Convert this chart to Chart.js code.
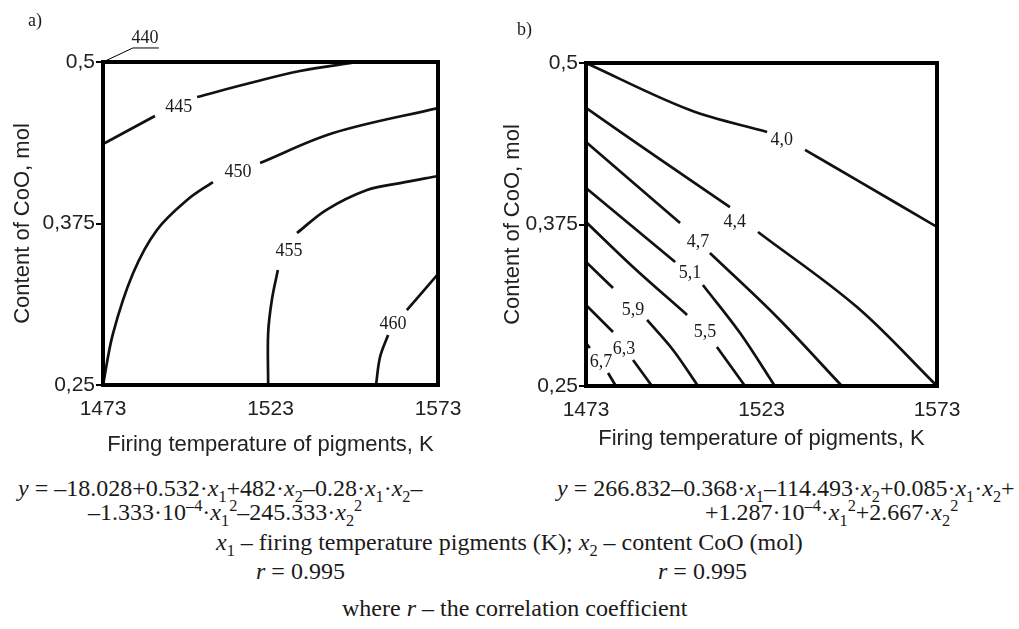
<!DOCTYPE html>
<html lang="en">
<head>
<meta charset="UTF-8">
<title>Contour charts</title>
<script src="https://cdn.jsdelivr.net/npm/chart.js@4.4.0/dist/chart.umd.min.js"></script>
<style>
  body { margin: 0; background: #fff; }
  #wrap { position: relative; width: 1019px; height: 629px; overflow: hidden;
          font-family: 'Liberation Serif', 'Times New Roman', serif; color: #1a1a1a; }
  #boxA { position: absolute; left: 0; top: 0; }
  #boxB { position: absolute; left: 490px; top: 0; }
  .t { position: absolute; white-space: nowrap; font-size: 24px; line-height: 28px; }
  .t sub, .t sup { font-size: 68%; line-height: 0; }
  .tag { position: absolute; font-size: 18px; }
</style>
</head>
<body>
<div id="wrap">
  <canvas id="boxA" width="470" height="470"></canvas>
  <canvas id="boxB" width="480" height="470"></canvas>
  <div class="tag" style="left:28px;top:10px">a)</div>
  <div class="tag" style="left:517px;top:19px">b)</div>

  <div class="t" style="left:18px;top:474px"><i>y</i> = –18.028+0.532·<i>x</i><sub>1</sub>+482·<i>x</i><sub>2</sub>–0.28·<i>x</i><sub>1</sub>·<i>x</i><sub>2</sub>–</div>
  <div class="t" style="left:88px;top:498px">–1.333·10<sup>–4</sup>·<i>x</i><sub>1</sub><sup>2</sup>–245.333·<i>x</i><sub>2</sub><sup>2</sup></div>
  <div class="t" style="left:557px;top:474px"><i>y</i> = 266.832–0.368·<i>x</i><sub>1</sub>–114.493·<i>x</i><sub>2</sub>+0.085·<i>x</i><sub>1</sub>·<i>x</i><sub>2</sub>+</div>
  <div class="t" style="left:705px;top:498px">+1.287·10<sup>–4</sup>·<i>x</i><sub>1</sub><sup>2</sup>+2.667·<i>x</i><sub>2</sub><sup>2</sup></div>
  <div class="t" style="left:216px;top:528px"><i>x</i><sub>1</sub> – firing temperature pigments (K); <i>x</i><sub>2</sub> – content CoO (mol)</div>
  <div class="t" style="left:256px;top:557px"><i>r</i> = 0.995</div>
  <div class="t" style="left:658px;top:557px"><i>r</i> = 0.995</div>
  <div class="t" style="left:342px;top:594px">where <i>r</i> – the correlation coefficient</div>
</div>
<script>
// axes
const xTicks = [1473, 1523, 1573];
const xTickLabels = ['1473', '1523', '1573'];
const yTicks = [0.25, 0.375, 0.5];
const yTickLabels = ['0,25', '0,375', '0,5'];

// chart a) contour lines, [K, mol]; null = gap for the label
const a445 = [[1473, 0.4365], [1488.5, 0.4582], null, [1501.1, 0.4729], [1516.9, 0.4837], [1531.8, 0.493], [1549.1, 0.5]];
const a450 = [[1473, 0.25], [1476, 0.29], [1482, 0.3367], [1489.1, 0.37], [1498.1, 0.3932], [1505.8, 0.4071], null,
              [1519.9, 0.4218], [1541.7, 0.445], [1573, 0.4644]];
const a455 = [[1573, 0.4118], [1561.7, 0.4063], [1551.8, 0.4009], [1539.6, 0.3854], [1530.9, 0.3676], null,
              [1525.2, 0.339], [1523.4, 0.3158], [1522.3, 0.2902], [1522.3, 0.25]];
const a460 = [[1573, 0.3359], [1563.7, 0.308], null, [1558.1, 0.2887], [1555.7, 0.2717], [1554.5, 0.25]];
const aLabels = ['440', '445', '450', '455', '460'];
const aLabelX = [1485.5, 1495.6, 1513.3, 1528.5, 1559.6];
const aLabelY = [0.5186, 0.4652, 0.4149, 0.3537, 0.2972];

// chart b)
const b40 = [[1473, 0.5], [1502.6, 0.4636], [1524.6, 0.4466], null, [1535.4, 0.4327], [1550.2, 0.4094], [1573, 0.3731]];
const b44 = [[1473, 0.4652], [1493.2, 0.4272], [1514, 0.3885], null, [1522, 0.3692], [1550.2, 0.3111], [1573, 0.25]];
const b47 = [[1473, 0.4389], [1499.8, 0.3762], null, [1508.3, 0.3529], [1527.4, 0.3034], [1545.9, 0.25]];
const b51 = [[1473, 0.4033], [1498.4, 0.346], null, [1506.3, 0.3282], [1516.9, 0.291], [1526.8, 0.25]];
const b55 = [[1473, 0.3769], [1486.4, 0.3421], [1501.8, 0.305], null, [1510.3, 0.2802], [1518.3, 0.25]];
const b59 = [[1473, 0.346], [1480.7, 0.3259], null, [1490.4, 0.3011], [1497.8, 0.2779], [1504.9, 0.25]];
const b63 = [[1473, 0.3127], [1480.7, 0.2918], null, [1486.4, 0.2701], [1491.8, 0.25]];
const b67 = [[1473, 0.2833], [1474.1, 0.2794], null, [1479.3, 0.2601], [1481.5, 0.25]];
const bLabels = ['4,0', '4,4', '4,7', '5,1', '5,5', '5,9', '6,3', '6,7'];
const bLabelX = [1528.8, 1515.4, 1504.9, 1502.6, 1506.9, 1486.4, 1483.8, 1477.3];
const bLabelY = [0.4404, 0.3769, 0.3615, 0.3375, 0.2918, 0.3088, 0.2786, 0.2686];

function toDatasets(lines) {
  const out = [];
  lines.forEach(line => {
    let seg = [];
    line.concat([null]).forEach(p => {
      if (p === null) {
        if (seg.length) out.push({
          data: seg, showLine: true, borderColor: '#111', borderWidth: 2.7,
          pointRadius: 0, tension: 0.35, fill: false
        });
        seg = [];
      } else {
        seg.push({ x: p[0], y: p[1] });
      }
    });
  });
  return out;
}

const framePlugin = {
  id: 'frame',
  afterDatasetsDraw(chart, args, opts) {
    const { ctx, chartArea: ca, scales: { x, y } } = chart;
    ctx.save();
    ctx.strokeStyle = '#000';
    ctx.lineWidth = 4;
    ctx.strokeRect(ca.left, ca.top, ca.right - ca.left, ca.bottom - ca.top);
    ctx.fillStyle = '#1a1a1a';
    ctx.font = '18px "Liberation Serif", serif';
    ctx.textAlign = 'center';
    ctx.textBaseline = 'middle';
    opts.labels.forEach((t, i) => {
      const px = x.getPixelForValue(opts.lx[i]);
      const py = y.getPixelForValue(opts.ly[i]);
      ctx.fillText(t, px, py);
      if (opts.leader === i) {
        ctx.lineWidth = 1;
        ctx.beginPath();
        ctx.moveTo(x.getPixelForValue(xTicks[0]), y.getPixelForValue(yTicks[2]));
        ctx.lineTo(px - 12, py + 10);
        ctx.lineTo(px + 14, py + 10);
        ctx.stroke();
      }
    });
    ctx.restore();
  }
};

function makeChart(id, lines, labels, lx, ly, leader, g) {
  new Chart(document.getElementById(id), {
    type: 'scatter',
    data: { datasets: toDatasets(lines) },
    options: {
      responsive: false,
      animation: false,
      layout: { padding: { left: 0, top: g.top, right: g.right, bottom: 0 } },
      plugins: {
        legend: { display: false },
        tooltip: { enabled: false },
        frame: { labels: labels, lx: lx, ly: ly, leader: leader }
      },
      scales: {
        x: {
          type: 'linear', min: 1473, max: 1573,
          afterBuildTicks: s => { s.ticks = xTicks.map(v => ({ value: v })); },
          afterFit: s => { s.height = g.xh; },
          ticks: {
            autoSkip: false, maxRotation: 0, padding: 4, color: '#222',
            font: { family: 'Liberation Sans', size: 21 },
            callback: v => xTickLabels[xTicks.indexOf(v)]
          },
          grid: { drawOnChartArea: false, tickLength: 8, tickColor: 'rgba(0,0,0,0)' },
          border: { display: false },
          title: {
            display: true, text: 'Firing temperature of pigments, K', color: '#222',
            font: { family: 'Liberation Sans', size: 22 }, padding: { bottom: g.xtp }
          }
        },
        y: {
          type: 'linear', min: 0.25, max: 0.5,
          afterBuildTicks: s => { s.ticks = yTicks.map(v => ({ value: v })); },
          afterFit: s => { s.width = g.yw; },
          ticks: {
            autoSkip: false, padding: 1, color: '#222',
            font: { family: 'Liberation Sans', size: 21 },
            callback: v => yTickLabels[yTicks.indexOf(v)]
          },
          grid: { drawOnChartArea: false, tickLength: 7, tickColor: '#000', lineWidth: 2 },
          border: { display: false },
          title: {
            display: true, text: 'Content of CoO, mol', color: '#222',
            font: { family: 'Liberation Sans', size: 22 }, padding: { top: 10 }
          }
        }
      }
    },
    plugins: [framePlugin]
  });
}

makeChart('boxA', [a445, a450, a455, a460], aLabels, aLabelX, aLabelY, 0,
  { top: 62, right: 32, xh: 85, yw: 103, xtp: 12 });
makeChart('boxB', [b40, b44, b47, b51, b55, b59, b63, b67], bLabels, bLabelX, bLabelY, -1,
  { top: 63, right: 33, xh: 84, yw: 96, xtp: 18 });
</script>
</body>
</html>
